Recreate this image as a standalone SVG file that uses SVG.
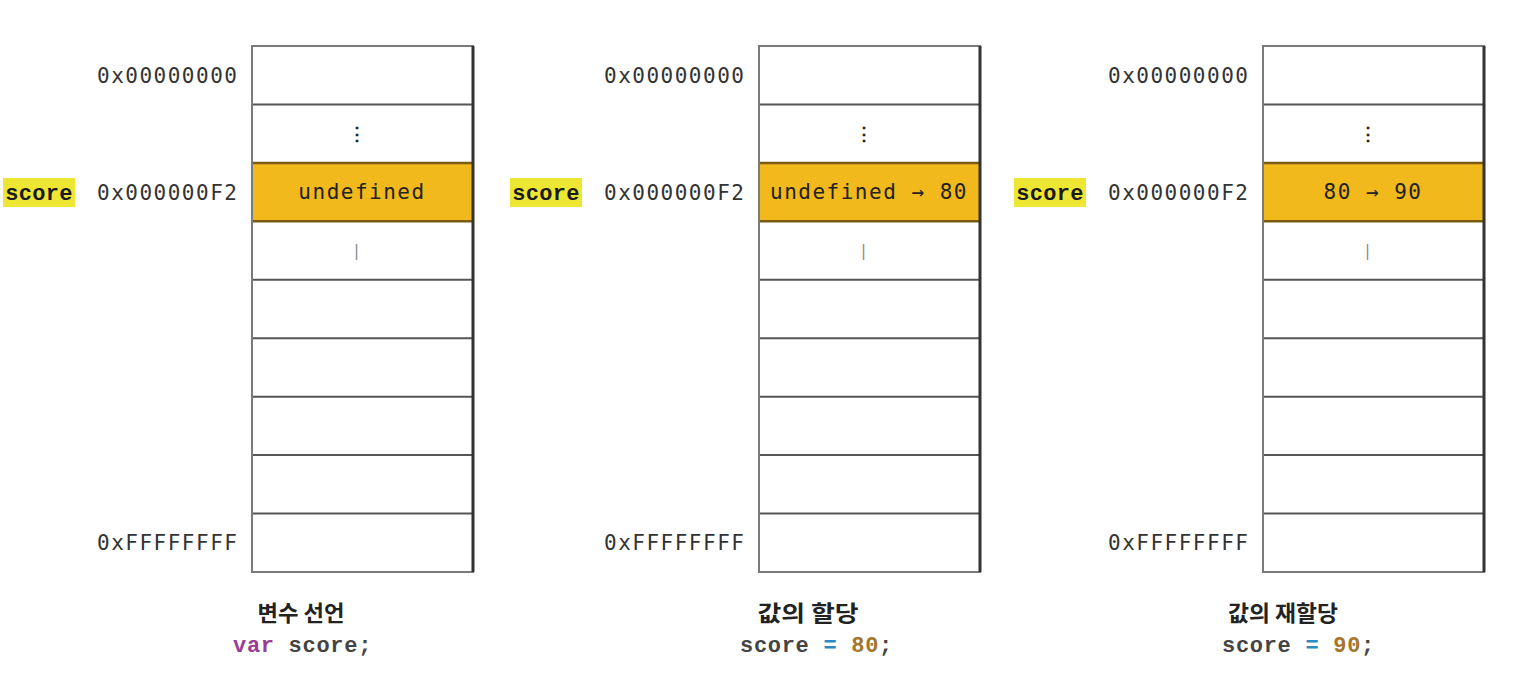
<svg xmlns="http://www.w3.org/2000/svg" width="1527" height="675" viewBox="0 0 1527 675">
<style>
.addr{font-family:"DejaVu Sans Mono",monospace;font-size:21px;letter-spacing:1.5px;fill:#333}
.val{font-family:"DejaVu Sans Mono",monospace;font-size:21px;letter-spacing:1.5px;fill:#222;text-anchor:middle}
.dots{font-family:"DejaVu Sans Mono",monospace;font-size:18px;font-weight:bold;fill:#222;text-anchor:middle}
.bar{font-family:"DejaVu Sans Mono",monospace;font-size:15px;fill:#888;text-anchor:middle}
.cell{fill:#fff;stroke:none}
.hl{fill:#F2B91C}
.hline{stroke:#555;stroke-width:2}
.hlline{stroke:#7a5c10;stroke-width:2.5}
.outer{fill:none;stroke:#7a7a7a;stroke-width:2}
.redge{stroke:#333;stroke-width:3}
.tag{fill:#EDE733;stroke:none}
.tagtxt{font-family:"Liberation Mono",monospace;font-weight:bold;font-size:22px;letter-spacing:0.3px;fill:#1a1a1a;text-anchor:middle}
.kor{font-family:"Noto Sans CJK KR",sans-serif;font-weight:bold;font-size:22px;fill:#222;text-anchor:middle}
.code{font-family:"Liberation Mono",monospace;font-weight:bold;font-size:22px;letter-spacing:0.7px;fill:#444}
.kw{fill:#9a3c98}
.op{fill:#2a8ac4}
.num{fill:#a3762c}
</style>
<defs>
<g id="mem">
<rect class="cell" x="0" y="0" width="221" height="526"/>
<rect class="hl" x="0" y="116.9" width="221" height="58.4"/>
<line class="hline" x1="0" y1="58.4" x2="221" y2="58.4"/>
<line class="hline" x1="0" y1="233.8" x2="221" y2="233.8"/>
<line class="hline" x1="0" y1="292.2" x2="221" y2="292.2"/>
<line class="hline" x1="0" y1="350.7" x2="221" y2="350.7"/>
<line class="hline" x1="0" y1="409.1" x2="221" y2="409.1"/>
<line class="hline" x1="0" y1="467.6" x2="221" y2="467.6"/>
<line class="hlline" x1="0" y1="116.9" x2="221" y2="116.9"/>
<line class="hlline" x1="0" y1="175.3" x2="221" y2="175.3"/>
<rect class="outer" x="0" y="0" width="221" height="526"/>
<line class="redge" x1="221" y1="0" x2="221" y2="526"/>
<text class="dots" x="104.5" y="94">⋮</text>
<text class="bar" x="104.5" y="210">|</text>
</g>
</defs>
<g id="column-declaration">
<use href="#mem" x="252" y="46"/>
<text class="addr" x="97" y="83">0x00000000</text>
<text class="addr" x="97" y="200">0x000000F2</text>
<text class="addr" x="97" y="550">0xFFFFFFFF</text>
<text class="val" x="362" y="199">undefined</text>
<rect class="tag" x="3" y="178" width="72" height="29"/>
<text class="tagtxt" x="39" y="200">score</text>
<text class="kor" x="301" y="621" textLength="87" lengthAdjust="spacingAndGlyphs">변수 선언</text>
<text class="code" x="233" y="652"><tspan class="kw">var</tspan> score;</text>
</g>
<g id="column-assignment">
<use href="#mem" x="759" y="46"/>
<text class="addr" x="604" y="83">0x00000000</text>
<text class="addr" x="604" y="200">0x000000F2</text>
<text class="addr" x="604" y="550">0xFFFFFFFF</text>
<text class="val" x="869" y="199">undefined → 80</text>
<rect class="tag" x="510" y="178" width="72" height="29"/>
<text class="tagtxt" x="546" y="200">score</text>
<text class="kor" x="808" y="621" textLength="101" lengthAdjust="spacingAndGlyphs">값의 할당</text>
<text class="code" x="740" y="652">score <tspan class="op">=</tspan> <tspan class="num">80</tspan>;</text>
</g>
<g id="column-reassignment">
<use href="#mem" x="1263" y="46"/>
<text class="addr" x="1108" y="83">0x00000000</text>
<text class="addr" x="1108" y="200">0x000000F2</text>
<text class="addr" x="1108" y="550">0xFFFFFFFF</text>
<text class="val" x="1373" y="199">80 → 90</text>
<rect class="tag" x="1014" y="178" width="72" height="29"/>
<text class="tagtxt" x="1050" y="200">score</text>
<text class="kor" x="1283" y="621" textLength="110" lengthAdjust="spacingAndGlyphs">값의 재할당</text>
<text class="code" x="1222" y="652">score <tspan class="op">=</tspan> <tspan class="num">90</tspan>;</text>
</g>
<g id="connectors"/>
</svg>
